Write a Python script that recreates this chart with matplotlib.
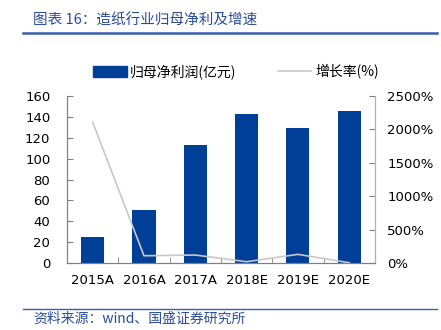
import matplotlib
matplotlib.use("Agg")
import matplotlib.pyplot as plt
from matplotlib.lines import Line2D
from matplotlib.patches import Patch
import numpy as np

plt.rcParams['font.family'] = ['Noto Sans CJK SC', 'DejaVu Sans']

categories = ["2015A", "2016A", "2017A", "2018E", "2019E", "2020E"]
profit = [25, 51, 113, 142.5, 129.5, 145.5]
growth = [2105, 113, 124, 24, 134, 9]
left_ticks = [0, 20, 40, 60, 80, 100, 120, 140, 160]
right_ticks = [0, 500, 1000, 1500, 2000, 2500]

title = "图表 16：造纸行业归母净利及增速"
source = "资料来源：wind、国盛证券研究所"
bar_label = "归母净利润(亿元)"
line_label = "增长率(%)"

bar_color = "#003F98"
line_color = "#C8C8C8"
text_blue = "#2B4C9B"
axis_color = "#808080"

fig = plt.figure(figsize=(4.41, 3.30), dpi=100)
ax = fig.add_axes([0.152, 0.202, 0.698, 0.508])
x = np.arange(len(categories))
ax.bar(x, profit, width=0.45, color=bar_color, zorder=2)
ax.set_xlim(-0.5, len(categories) - 0.5)
ax.set_ylim(0, 160)
ax.set_yticks(left_ticks)
ax.set_yticklabels([str(v) for v in left_ticks], fontsize=9.5, family=['DejaVu Sans'])
ax.set_xticks(x)
ax.set_xticklabels(categories, fontsize=9.5, family=['DejaVu Sans'])
ax.set_xticks(np.arange(len(categories) + 1) - 0.5, minor=True)
ax.tick_params(axis='x', which='major', length=0, pad=8)
ax.tick_params(axis='x', which='minor', length=4, direction='in', color=axis_color)
ax.tick_params(axis='y', length=4, direction='in', color=axis_color, pad=12)

ax2 = ax.twinx()
ax2.plot(x, growth, color=line_color, lw=1.2, zorder=3)
ax2.set_ylim(0, 2500)
ax2.set_yticks(right_ticks)
ax2.set_yticklabels([f"{v}%" for v in right_ticks], fontsize=9.5, family=['DejaVu Sans'])
ax2.tick_params(axis='y', length=4, direction='in', color=axis_color, pad=9)

for a in (ax, ax2):
    a.spines['top'].set_visible(False)
    for s in ('left', 'right', 'bottom'):
        a.spines[s].set_color(axis_color)
        a.spines[s].set_linewidth(0.8)
ax2.spines['right'].set_color("#B0B0B0")

handles = [Patch(facecolor=bar_color, edgecolor=bar_color),
           Line2D([0], [0], color=line_color, lw=1.2)]
fig.legend(handles, [bar_label, line_label], loc='center', bbox_to_anchor=(0.535, 0.782),
           ncol=2, frameon=False, fontsize=10, handlelength=2.4, handleheight=0.9,
           columnspacing=3.0, handletextpad=0.25)

fig.text(0.075, 0.937, title, fontsize=10.5, color=text_blue, style='italic', va='center')
fig.add_artist(Line2D([0.052, 0.99], [0.9, 0.9], color="#3A5DAE", lw=1.8, transform=fig.transFigure))
fig.add_artist(Line2D([0.052, 0.99], [0.064, 0.064], color="#3A5DAE", lw=1.0, transform=fig.transFigure))
fig.text(0.075, 0.035, source, fontsize=10, color=text_blue, style='italic', va='center')

fig.savefig("out.png", dpi=100)
